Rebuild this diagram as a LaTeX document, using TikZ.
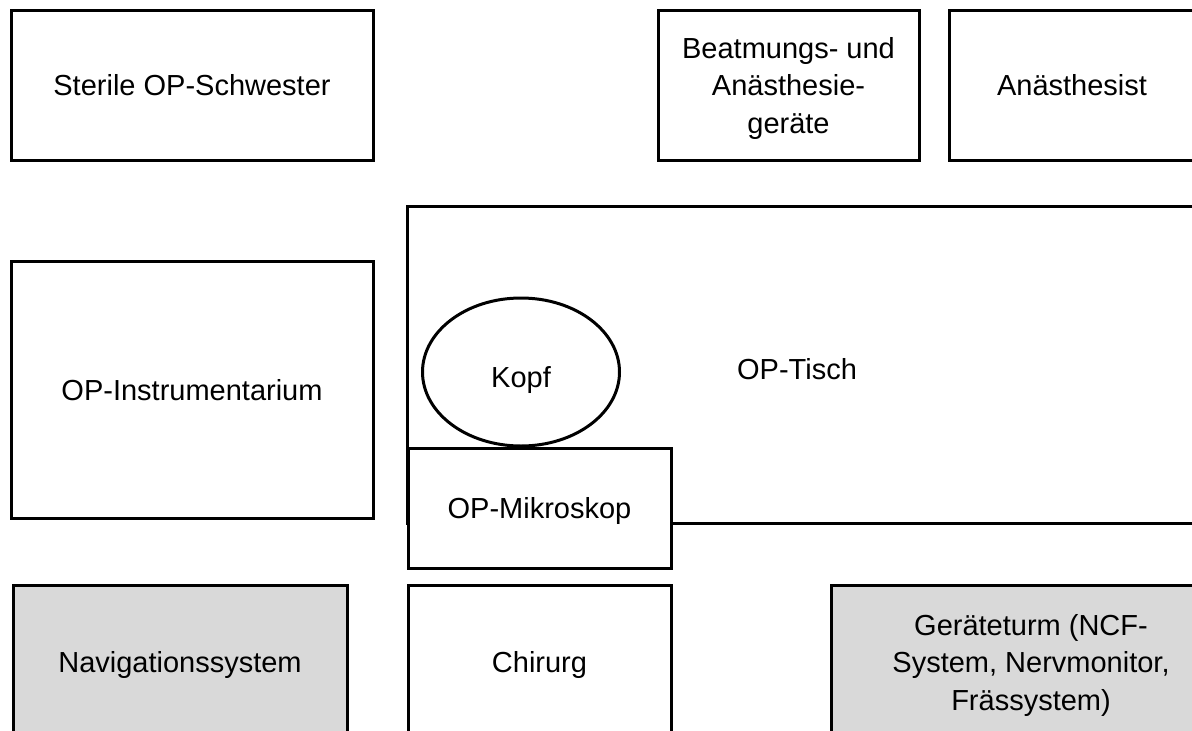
\documentclass[tikz,border=0pt]{standalone}
\usepackage{fontspec}
\setmainfont{Liberation Sans}
\usetikzlibrary{shapes.geometric}
\definecolor{boxgrey}{RGB}{217,217,217}
\begin{document}
\begin{tikzpicture}[x=1pt,y=-1pt,
  box/.style={draw=black, line width=3pt, rectangle, inner sep=0pt, outer sep=0pt,
    align=center, fill=white, text depth=0pt, font=\fontsize{29}{37.5}\selectfont},
  greybox/.style={box, fill=boxgrey},
  oval/.style={box, ellipse}]
\useasboundingbox (0,0) rectangle (1192,731);
\clip (0,0) rectangle (1192,731);

% top row
\node[box, minimum width=362pt, minimum height=150pt] (schwester) at (192,85) {Sterile OP-Schwester};
\node[box, minimum width=261pt, minimum height=150pt] (beatmung) at (788.5,85) {Beatmungs- und\\Anästhesie-\\geräte};
\node[box, minimum width=246pt, minimum height=150pt] (anaesthesist) at (1072,85) {Anästhesist};

% middle row: the table, with microscope and head on top of it
\node[box, minimum width=788pt, minimum height=317pt, text height=30pt] (tisch) at (801,364.5) {OP-Tisch\hspace*{8pt}};
\node[box, minimum width=362pt, minimum height=257pt] (instrumente) at (192,389.5) {OP-Instrumentarium};
\node[box, minimum width=263pt, minimum height=120pt] (mikroskop) at (539.5,508) {OP-Mikroskop};
\node[oval, minimum width=197pt, minimum height=148pt, text height=31pt] (kopf) at (521,372) {Kopf};

% bottom row
\node[greybox, minimum width=334pt, minimum height=154pt] (navigation) at (180,662) {Navigationssystem};
\node[box, minimum width=263pt, minimum height=154pt] (chirurg) at (539.5,662) {Chirurg};
\node[greybox, minimum width=400pt, minimum height=154pt] (turm) at (1031,662) {Geräteturm (NCF-\\System, Nervmonitor,\\Frässystem)};
\end{tikzpicture}
\end{document}
